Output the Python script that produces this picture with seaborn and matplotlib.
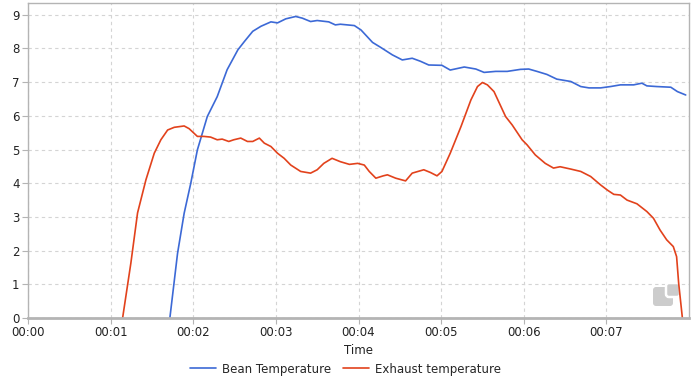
import pandas as pd
import matplotlib.pyplot as plt
import seaborn as sns
from matplotlib.ticker import FuncFormatter, MultipleLocator
from matplotlib.patches import FancyBboxPatch

# Bean temperature (time in minutes, value)
bean_t = [1.717, 1.81, 1.89, 1.97, 2.05, 2.17, 2.29, 2.41, 2.54, 2.62, 2.72, 2.82,
          2.94, 3.02, 3.12, 3.24, 3.32, 3.42, 3.50, 3.64, 3.72, 3.78, 3.95, 4.03,
          4.17, 4.27, 4.41, 4.53, 4.65, 4.75, 4.85, 5.01, 5.11, 5.28, 5.42, 5.52,
          5.66, 5.80, 5.96, 6.06, 6.16, 6.28, 6.40, 6.57, 6.69, 6.79, 6.93, 7.05,
          7.17, 7.33, 7.43, 7.49, 7.61, 7.78, 7.86, 7.96]
bean_v = [0.0, 1.92, 3.11, 4.00, 4.99, 5.98, 6.57, 7.37, 7.96, 8.21, 8.51, 8.66,
          8.79, 8.76, 8.88, 8.95, 8.90, 8.80, 8.83, 8.79, 8.70, 8.72, 8.68, 8.55,
          8.18, 8.03, 7.81, 7.66, 7.71, 7.62, 7.51, 7.50, 7.36, 7.45, 7.39, 7.29,
          7.32, 7.32, 7.38, 7.39, 7.32, 7.23, 7.09, 7.02, 6.87, 6.83, 6.83, 6.87,
          6.92, 6.92, 6.97, 6.89, 6.87, 6.85, 6.72, 6.62]

# Exhaust temperature
exh_t = [1.145, 1.245, 1.326, 1.427, 1.528, 1.608, 1.69, 1.77, 1.89, 1.95, 2.05,
         2.13, 2.21, 2.29, 2.35, 2.43, 2.49, 2.575, 2.656, 2.72, 2.80, 2.86, 2.94,
         3.02, 3.10, 3.18, 3.30, 3.42, 3.50, 3.58, 3.68, 3.78, 3.89, 3.99, 4.07,
         4.13, 4.21, 4.30, 4.35, 4.45, 4.57, 4.65, 4.79, 4.87, 4.95, 5.01, 5.11,
         5.24, 5.36, 5.44, 5.50, 5.56, 5.64, 5.78, 5.86, 5.98, 6.04, 6.14, 6.26,
         6.36, 6.44, 6.57, 6.69, 6.81, 6.93, 7.01, 7.09, 7.17, 7.25, 7.37, 7.49,
         7.57, 7.65, 7.73, 7.81, 7.85, 7.875, 7.92]
exh_v = [0.0, 1.63, 3.12, 4.10, 4.89, 5.29, 5.58, 5.66, 5.70, 5.62, 5.39,
         5.39, 5.37, 5.29, 5.31, 5.24, 5.29, 5.34, 5.24, 5.24, 5.34, 5.19, 5.09,
         4.89, 4.74, 4.54, 4.35, 4.30, 4.40, 4.59, 4.74, 4.64, 4.56, 4.59, 4.54,
         4.35, 4.15, 4.22, 4.25, 4.15, 4.07, 4.30, 4.40, 4.32, 4.22, 4.35, 4.89,
         5.68, 6.47, 6.87, 6.99, 6.92, 6.72, 5.98, 5.73, 5.29, 5.14, 4.84, 4.59,
         4.45, 4.49, 4.42, 4.35, 4.20, 3.95, 3.80, 3.67, 3.65, 3.50, 3.39, 3.16,
         2.96, 2.61, 2.32, 2.12, 1.82, 1.03, 0.0]

series_names = ["Bean Temperature", "Exhaust temperature"]
palette = {"Bean Temperature": "#3c69d6", "Exhaust temperature": "#e2421c"}
x_ticks = [0, 1, 2, 3, 4, 5, 6, 7]

df = pd.concat([
    pd.DataFrame({"Time": bean_t, "Value": bean_v, "Series": series_names[0]}),
    pd.DataFrame({"Time": exh_t, "Value": exh_v, "Series": series_names[1]}),
])

sns.set_theme(style="white")
plt.rcParams['font.family'] = ['DejaVu Sans']

fig = plt.figure(figsize=(6.91, 3.85), dpi=100)
ax = fig.add_axes([28 / 691, 67 / 385, 661 / 691, 315 / 385])

sns.lineplot(data=df, x="Time", y="Value", hue="Series", palette=palette,
             sort=False, estimator=None, linewidth=1.2, ax=ax, legend=False)

ax.set_xlim(0, 8.0)
ax.set_ylim(0, 9.35)
ax.set_xticks(x_ticks)
ax.yaxis.set_major_locator(MultipleLocator(1))
ax.xaxis.set_major_formatter(FuncFormatter(lambda v, p: f"00:{int(round(v)):02d}"))
ax.grid(True, color="#d4d4d4", linestyle=(0, (3, 3)), linewidth=0.8)
for side in ["top", "right", "left"]:
    ax.spines[side].set_color("#b4b4b4")
    ax.spines[side].set_linewidth(1.0)
ax.spines["bottom"].set_color("#b4b4b4")
ax.spines["bottom"].set_linewidth(2.0)
ax.tick_params(axis="both", labelsize=8.5, colors="#b4b4b4", labelcolor="#222222",
               length=4, width=0.8, direction="out", left=True, bottom=True, pad=2)
ax.set_xlabel("Time", fontsize=8.5, color="#222222", labelpad=3)
ax.set_ylabel("")

# watermark logo (display pixels, origin bottom-left)
ax.add_patch(FancyBboxPatch((653, 79), 20, 19, boxstyle="round,pad=0,rounding_size=3",
                            transform=None, facecolor="#cccccc", edgecolor="none"))
ax.add_patch(FancyBboxPatch((666, 88), 14, 14, boxstyle="round,pad=0,rounding_size=3",
                            transform=None, facecolor="#cccccc", edgecolor="white", linewidth=1.8))

handles = [plt.Line2D([], [], color=palette[n], linewidth=1.2) for n in series_names]
fig.legend(handles, series_names, loc="center", bbox_to_anchor=(0.5, 16 / 385), ncol=2,
           frameon=False, fontsize=8.5, handlelength=2.2, columnspacing=1.0, handletextpad=0.5)

fig.savefig("out.png", dpi=100)
